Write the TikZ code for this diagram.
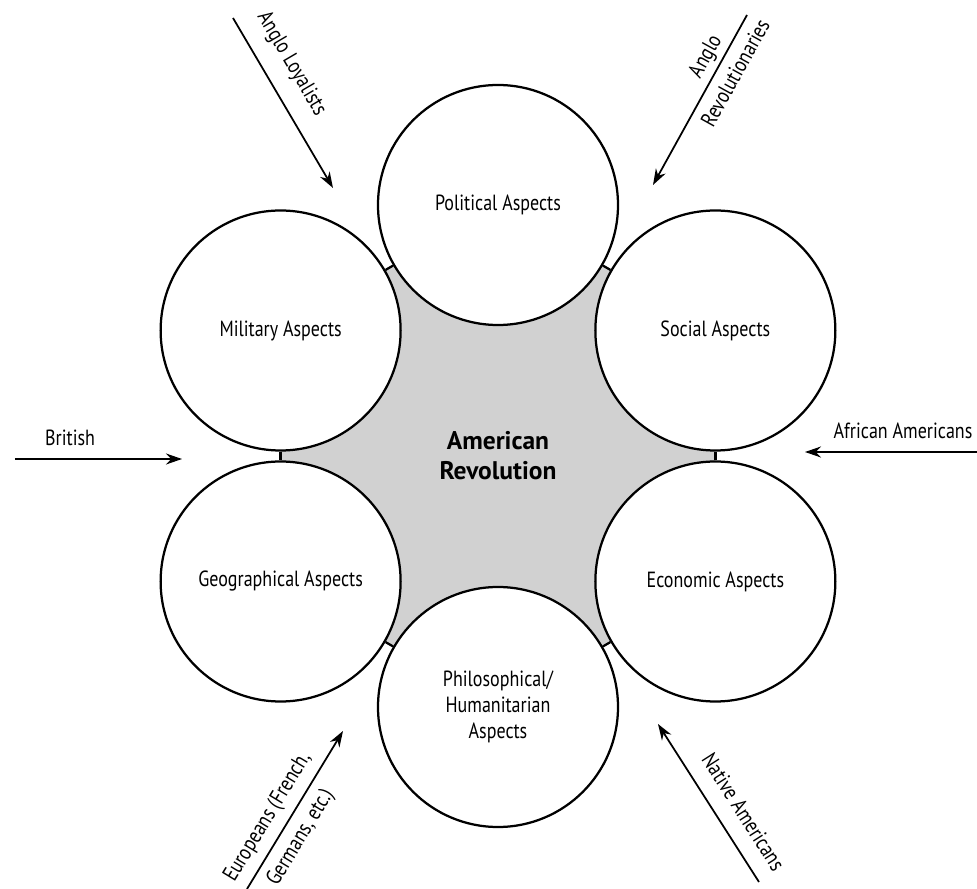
\documentclass[tikz,border=0pt]{standalone}
\usepackage{fontspec}
\setmainfont{PT Sans}[FakeStretch=0.82]
\newfontfamily\coreface{PT Sans}
\usetikzlibrary{shapes,arrows.meta,positioning,backgrounds}
\tikzset{aspect/.style={circle,draw,fill=white,line width=0.45mm,minimum size=4.8cm,inner sep=0pt,align=center,font=\fontsize{12.5}{15}\selectfont}}
\tikzset{link/.style={draw,line width=0.45mm}}
\tikzset{arrow/.style={draw,line width=0.35mm,-{Stealth[length=3.2mm,width=2.2mm]}}}
\tikzset{group/.style={font=\fontsize{12.5}{15}\selectfont,align=center}}
\tikzset{core/.style={align=center,font=\coreface\fontsize{14.5}{17}\selectfont\bfseries}}

\begin{document}
\begin{tikzpicture}
    \useasboundingbox (-9.96,-8.66) rectangle (9.58,9.12);

    \node[aspect] (pol) at (90:5.02) {Political Aspects};
    \node[aspect] (mil) at (150:5.02) {Military Aspects};
    \node[aspect] (soc) at (30:5.02) {Social Aspects};
    \node[aspect] (geo) at (210:5.02) {Geographical Aspects};
    \node[aspect] (eco) at (330:5.02) {Economic Aspects};
    \node[aspect] (phi) at (270:5.02) {Philosophical/\\Humanitarian\\Aspects};

    \begin{scope}[on background layer]
        \fill[black!18] (pol.center) -- (soc.center) -- (eco.center) -- (phi.center) -- (geo.center) -- (mil.center) -- cycle;
    \end{scope}
    \node[core] (rev) at (0,0) {American\\Revolution};

        \path[link] (pol) -- (mil);
        \path[link] (pol) -- (soc);
        \path[link] (mil) -- (geo);
        \path[link] (soc) -- (eco);
        \path[link] (geo) -- (phi);
        \path[link] (eco) -- (phi);

    \coordinate (loyA) at (-5.30,8.76);
    \coordinate (loyB) at (-3.30,5.36);
    \coordinate (revA) at (4.98,8.82);
    \coordinate (revB) at (3.10,5.42);
    \coordinate (briA) at (-9.66,-0.06);
    \coordinate (briB) at (-6.32,-0.06);
    \coordinate (afrA) at (9.58,0.08);
    \coordinate (afrB) at (6.14,0.08);
    \coordinate (eurA) at (-5.02,-8.66);
    \coordinate (eurB) at (-3.10,-5.50);
    \coordinate (natA) at (5.22,-8.52);
    \coordinate (natB) at (3.20,-5.36);

        \path[arrow] (loyA) -- (loyB) node[group,pos=0.35,sloped,above,inner sep=3.2mm] {Anglo Loyalists};
        \path[arrow] (revA) -- (revB) node[group,pos=0.29,sloped] {Anglo\\[5pt]Revolutionaries};
        \path[arrow] (briA) -- (briB) node[group,pos=0.33,above,inner sep=2.5mm] {British};
        \path[arrow] (afrA) -- (afrB) node[group,pos=0.43,above,inner sep=2.5mm] {African Americans};
        \path[arrow] (eurA) -- (eurB) node[group,pos=0.39,sloped] {Europeans (French,\\[7pt]Germans, etc.)};
        \path[arrow] (natA) -- (natB) node[group,pos=0.36,sloped,above,inner sep=3.2mm] {Native Americans};
\end{tikzpicture}
\end{document}
